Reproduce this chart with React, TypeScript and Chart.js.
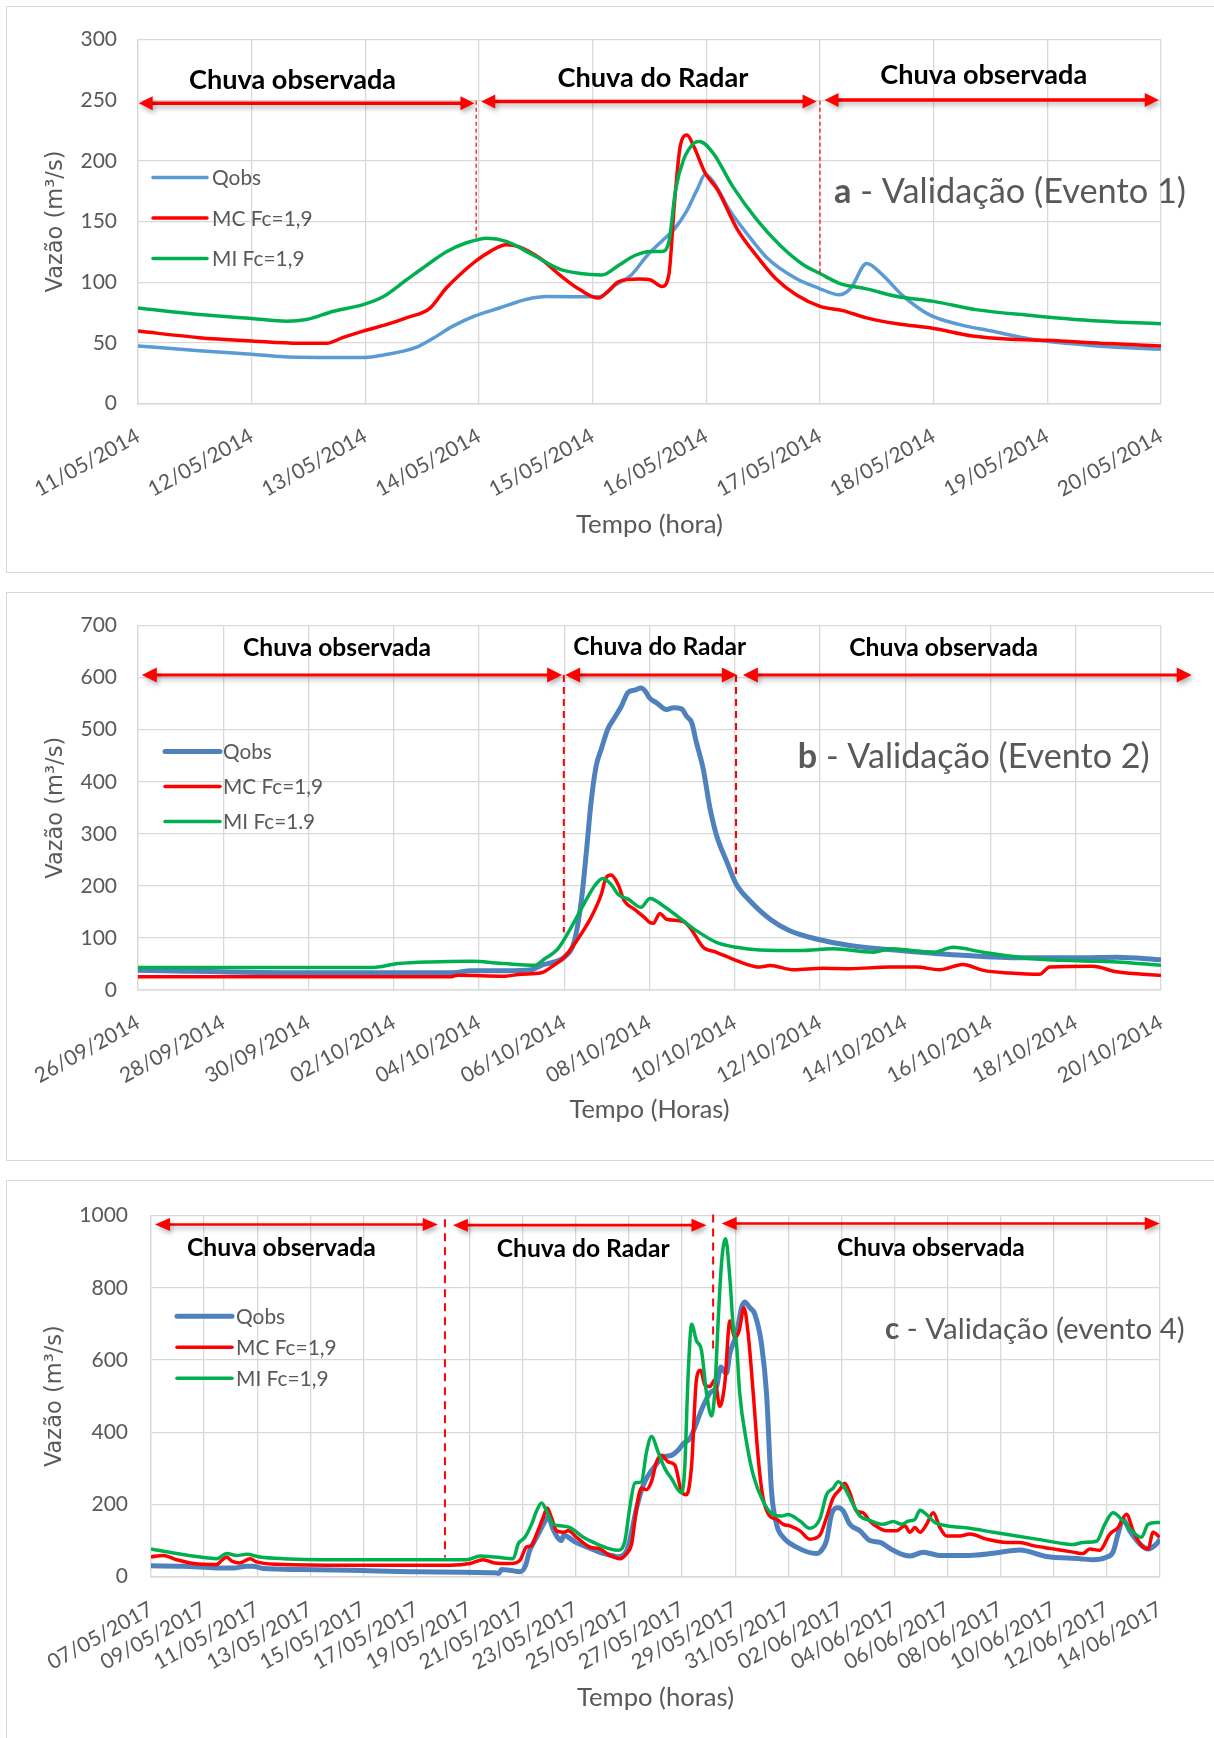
import React, { useEffect, useRef } from 'react';
import { Chart, registerables } from 'chart.js';

Chart.register(...registerables);

type Pt = [number, number];

// ---------------- Panel a: 11/05/2014 - 20/05/2014 ----------------
const aTickLabels = ['11/05/2014', '12/05/2014', '13/05/2014', '14/05/2014', '15/05/2014', '16/05/2014', '17/05/2014', '18/05/2014', '19/05/2014', '20/05/2014'];
const aQobs: Pt[] = [[0, 47.5], [0.54, 43.4], [1.0, 40.7], [1.28, 38.6], [1.72, 38], [2.0, 38], [2.16, 40], [2.44, 46], [2.6, 54], [2.77, 63.8], [2.96, 72], [3.18, 78.7], [3.42, 86], [3.6, 88.2], [4.06, 88], [4.2, 97.7], [4.34, 106], [4.48, 122], [4.61, 134], [4.72, 144], [4.82, 157.5], [4.92, 176.5], [4.99, 188.7], [5.06, 183], [5.2, 160], [5.37, 138.5], [5.54, 119.5], [5.79, 103], [5.99, 95], [6.17, 89.6], [6.27, 95], [6.41, 115.4], [6.55, 106], [6.72, 89.6], [6.96, 73.3], [7.23, 65], [7.51, 59.7], [7.86, 53], [8.2, 49.4], [8.54, 46.7], [9.0, 44.8]];
const aMC: Pt[] = [[0, 59.7], [0.54, 54.3], [1.0, 51.6], [1.42, 49.7], [1.66, 49.7], [1.8, 54.3], [1.98, 59.7], [2.19, 65.2], [2.36, 70.6], [2.57, 78.7], [2.71, 95], [2.86, 108.6], [2.98, 118], [3.1, 125.4], [3.24, 130.9], [3.36, 129], [3.54, 119.5], [3.71, 106], [3.89, 93.7], [4.05, 86.9], [4.13, 92], [4.23, 100.5], [4.41, 102.6], [4.51, 101.8], [4.61, 96.4], [4.67, 106], [4.72, 165.6], [4.77, 211.8], [4.83, 221.3], [4.89, 211.8], [4.99, 190], [5.1, 176], [5.27, 144], [5.44, 122], [5.61, 103], [5.79, 89.6], [6.0, 80.1], [6.2, 76.6], [6.41, 70.6], [6.68, 65.7], [7.0, 61.9], [7.34, 55.7], [7.68, 53], [7.99, 52.1], [8.54, 49.4], [9.0, 47.5]];
const aMI: Pt[] = [[0, 78.7], [0.54, 73.3], [1.0, 70], [1.31, 67.9], [1.48, 69.2], [1.72, 76], [1.98, 81.5], [2.16, 88.2], [2.36, 101.8], [2.54, 114], [2.71, 124.9], [2.89, 132.5], [3.07, 136.3], [3.24, 133.6], [3.48, 122.2], [3.71, 110.8], [3.89, 107.2], [4.08, 106], [4.23, 114], [4.37, 122], [4.51, 125.4], [4.61, 125.4], [4.67, 133], [4.73, 176.5], [4.8, 201], [4.89, 214.5], [4.94, 216], [5.06, 206.4], [5.23, 179.2], [5.44, 152], [5.65, 130.3], [5.86, 114], [6.0, 107.2], [6.17, 99.1], [6.41, 94.5], [6.68, 88.2], [7.0, 84.2], [7.37, 77.4], [7.86, 72.5], [8.37, 68.4], [9.0, 65.7]];

// ---------------- Panel b: 26/09/2014 - 20/10/2014 ----------------
const bTickLabels = ['26/09/2014', '28/09/2014', '30/09/2014', '02/10/2014', '04/10/2014', '06/10/2014', '08/10/2014', '10/10/2014', '12/10/2014', '14/10/2014', '16/10/2014', '18/10/2014', '20/10/2014'];
const bQobs: Pt[] = [[0, 38], [3.9, 33], [7.4, 33], [7.8, 36.8], [8.6, 36.8], [9.23, 39], [9.46, 47.5], [9.77, 53.9], [10.0, 63], [10.24, 95], [10.4, 171], [10.52, 266], [10.63, 361], [10.75, 431], [10.87, 463], [11.02, 501], [11.18, 523], [11.34, 545], [11.5, 572], [11.65, 576], [11.8, 580], [11.9, 574], [12.0, 561], [12.17, 551.6], [12.4, 538.9], [12.56, 542], [12.75, 540], [12.87, 526], [12.99, 513.5], [13.1, 475.5], [13.26, 424.7], [13.42, 348.6], [13.57, 297.8], [13.81, 247], [14.04, 202.7], [14.36, 171], [14.83, 136], [15.29, 113.9], [15.92, 98], [16.7, 85.4], [17.87, 75.8], [19.04, 68.2], [20.6, 61.9], [22.17, 61.9], [22.96, 63], [24.0, 58]];
const bMC: Pt[] = [[0, 25.4], [7.35, 25.4], [7.5, 28.5], [8.6, 26.6], [9.0, 30.4], [9.46, 33], [9.7, 44.4], [10.0, 63], [10.16, 79], [10.4, 108], [10.63, 139.5], [10.87, 184], [10.98, 215.6], [11.1, 220.7], [11.26, 203], [11.41, 171], [11.65, 155], [11.88, 139.5], [12.0, 130], [12.09, 128], [12.24, 147], [12.4, 136], [12.79, 131.6], [12.95, 120], [13.26, 82], [13.57, 72.5], [14.04, 56.6], [14.59, 44], [14.83, 47], [15.37, 39], [16.07, 42], [16.7, 41], [17.64, 44], [18.26, 44], [18.8, 39], [19.35, 49], [19.83, 37.7], [20.45, 32.7], [21.15, 30.2], [21.39, 44.4], [22.4, 45.6], [22.96, 34.9], [24.0, 27.9]];
const bMI: Pt[] = [[0, 43], [5.47, 43], [6.1, 50.7], [6.88, 54], [7.82, 55], [8.6, 50.7], [9.3, 47.5], [9.54, 60], [9.85, 79], [10.16, 120], [10.48, 168], [10.71, 199.9], [10.9, 214.4], [11.1, 203], [11.26, 184], [11.5, 174.6], [11.8, 158.8], [12.01, 176], [12.32, 162], [12.79, 133], [13.1, 114], [13.57, 91.5], [14.04, 82], [14.59, 77], [15.53, 75.8], [16.31, 79], [17.25, 72.5], [17.64, 79], [18.66, 72.5], [19.12, 82], [19.83, 72.5], [21.0, 60], [22.17, 55.8], [22.96, 53.9], [24.0, 47.5]];

// ---------------- Panel c: 07/05/2017 - 14/06/2017 ----------------
const cTickLabels = ['07/05/2017', '09/05/2017', '11/05/2017', '13/05/2017', '15/05/2017', '17/05/2017', '19/05/2017', '21/05/2017', '23/05/2017', '25/05/2017', '27/05/2017', '29/05/2017', '31/05/2017', '02/06/2017', '04/06/2017', '06/06/2017', '08/06/2017', '10/06/2017', '12/06/2017', '14/06/2017'];
const cQobs: Pt[] = [[0, 30], [1.22, 29], [2.47, 24.4], [3.1, 24], [3.6, 29], [3.85, 29], [4.23, 22.6], [5.61, 20], [7.5, 18], [10.0, 13.5], [12.95, 10.7], [13.1, 9], [13.2, 20], [13.5, 18], [13.9, 14], [14.1, 30], [14.25, 70], [14.45, 100], [14.6, 120], [14.85, 155], [14.95, 165], [15.15, 130], [15.3, 110], [15.45, 100], [15.55, 115], [15.7, 110], [16.0, 95], [16.5, 80], [17.0, 65], [17.4, 58], [17.6, 55], [17.9, 70], [18.03, 100], [18.29, 191], [18.54, 254], [18.91, 300], [19.29, 331], [19.6, 336], [19.85, 350], [20.04, 368], [20.29, 382], [20.79, 472], [21.05, 509], [21.3, 527], [21.46, 581], [21.67, 563], [21.8, 618], [22.05, 672], [22.24, 745], [22.36, 761], [22.55, 745], [22.74, 727], [23.0, 640], [23.18, 509], [23.37, 236], [23.56, 145], [23.81, 109], [24.31, 82], [25.06, 64], [25.19, 68], [25.44, 100], [25.63, 173], [25.88, 191], [26.07, 182], [26.32, 145], [26.7, 127], [27.07, 100], [27.45, 95], [27.95, 73], [28.58, 57], [29.08, 68], [29.7, 59], [30.84, 59], [31.72, 65], [32.72, 74], [33.72, 56], [34.98, 50], [35.48, 47], [35.98, 54], [36.23, 68], [36.42, 118], [36.61, 159], [36.86, 127], [37.24, 91], [37.55, 77], [37.87, 91], [38.0, 104]];
const cMC: Pt[] = [[0, 54.6], [0.46, 59], [0.97, 47], [1.6, 36.4], [2.47, 33.7], [2.66, 45], [2.85, 54.6], [3.04, 43.6], [3.35, 38], [3.73, 50], [3.98, 41], [4.73, 34.6], [7.49, 32], [11.26, 32], [12.01, 36.4], [12.51, 47], [12.95, 38], [13.52, 36.4], [13.89, 45], [14.14, 82], [14.33, 86], [14.52, 118], [14.77, 164], [14.92, 190], [15.08, 164], [15.27, 127], [15.52, 123], [15.71, 127], [16.03, 109], [16.53, 82], [16.9, 77], [17.28, 59], [17.66, 50], [17.91, 64], [18.1, 91], [18.29, 191], [18.47, 245], [18.66, 241], [18.85, 264], [19.04, 318], [19.23, 336], [19.48, 318], [19.73, 309], [19.98, 236], [20.17, 227], [20.36, 309], [20.54, 545], [20.7, 572], [20.86, 531], [21.05, 527], [21.23, 545], [21.42, 472], [21.61, 536], [21.8, 708], [21.99, 663], [22.15, 681], [22.33, 745], [22.49, 672], [22.68, 509], [22.87, 327], [23.05, 218], [23.3, 168], [23.56, 159], [23.81, 145], [24.06, 141], [24.44, 127], [24.81, 104], [25.19, 115], [25.44, 164], [25.69, 218], [25.94, 241], [26.13, 259], [26.32, 232], [26.57, 182], [26.82, 177], [27.07, 154], [27.39, 136], [27.7, 127], [28.08, 127], [28.39, 141], [28.58, 123], [28.77, 136], [28.96, 123], [29.21, 145], [29.46, 177], [29.71, 136], [29.96, 113], [30.46, 113], [30.84, 118], [31.47, 104], [32.22, 95], [32.72, 95], [33.22, 86], [33.97, 77], [34.73, 68], [35.1, 64], [35.35, 77], [35.73, 73], [36.11, 118], [36.42, 136], [36.74, 173], [36.99, 127], [37.3, 86], [37.55, 77], [37.74, 123], [37.99, 109]];
const cMI: Pt[] = [[0, 77], [0.97, 64], [1.85, 54.6], [2.47, 50], [2.85, 64], [3.23, 59], [3.6, 62], [4.1, 54.6], [4.98, 50], [7.49, 47], [11.89, 47], [12.39, 57], [12.95, 54.6], [13.64, 50], [13.83, 91], [14.08, 109], [14.33, 145], [14.52, 182], [14.71, 204], [14.9, 182], [15.15, 145], [15.4, 141], [15.78, 136], [16.28, 109], [16.78, 91], [17.28, 77], [17.6, 73], [17.85, 100], [18.03, 191], [18.22, 259], [18.47, 263], [18.66, 345], [18.85, 388], [19.1, 345], [19.35, 300], [19.6, 272], [19.98, 232], [20.1, 300], [20.23, 560], [20.36, 699], [20.54, 654], [20.73, 627], [20.92, 509], [21.11, 445], [21.23, 509], [21.36, 708], [21.49, 872], [21.64, 936], [21.8, 827], [21.93, 690], [22.05, 645], [22.17, 509], [22.43, 372], [22.68, 282], [23.05, 209], [23.43, 172], [23.74, 168], [23.99, 172], [24.44, 154], [24.81, 134], [25.19, 160], [25.44, 227], [25.69, 245], [25.88, 263], [26.13, 245], [26.44, 200], [26.7, 168], [27.07, 156], [27.57, 145], [27.95, 153], [28.27, 145], [28.52, 154], [28.77, 159], [28.96, 184], [29.21, 172], [29.52, 150], [29.96, 141], [30.84, 134], [31.72, 123], [32.6, 113], [33.35, 104], [34.23, 93], [34.73, 89], [35.1, 95], [35.61, 98], [35.92, 145], [36.23, 177], [36.55, 159], [36.99, 123], [37.3, 109], [37.55, 145], [37.87, 150], [38.0, 150]];

// ---------------- styles & layout ----------------
const FONT = 'Lato';
const GRAY = '#595959';
const GRID = '#D9D9D9';
const RED = '#FF0000';
const GREEN = '#00B050';
const CANVAS_W = 1208;

type Series = { label: string; data: Pt[]; color: string; width: number };
type Arrow = { x1: number; x2: number; y: number };
type VLine = { x: number; y1: number; y2: number };
type Label = { text: string; x: number; y: number; w: number };
type PanelCfg = {
  key: string;
  top: number; height: number; boxH: number;
  area: { left: number; top: number; right: number; bottom: number };
  xMax: number; xStep: number; tickLabels: string[];
  yMax: number; yStep: number; yTickPad: number;
  xTitle: string; xTitleY: number; xTitleW: number;
  yTitleX: number;
  series: Series[];
  arrows: Arrow[]; arrowLW: number; headL: number; headW: number;
  vlines: VLine[]; dashLW: number; dash: number[];
  labels: Label[];
  tag: { bold: string; rest: string; x: number; y: number; w: number };
  legend: { dx: number; dy: number; step: number; lineLen: number; gap: number; textW: number };
};

let mctx: CanvasRenderingContext2D | null = null;
function textWidth(text: string, font: string): number {
  if (!mctx) mctx = document.createElement('canvas').getContext('2d');
  mctx!.font = font;
  return mctx!.measureText(text).width;
}
function fitSize(text: string, weight: string, family: string, target: number): number {
  return (100 * target) / textWidth(text, `${weight} 100px ${family}`);
}

function drawArrow(ctx: CanvasRenderingContext2D, x1: number, x2: number, y: number, lw: number, hl: number, hw: number) {
  ctx.save();
  ctx.shadowColor = 'rgba(0,0,0,0.30)';
  ctx.shadowBlur = 5;
  ctx.shadowOffsetX = 2;
  ctx.shadowOffsetY = 3;
  ctx.strokeStyle = RED;
  ctx.fillStyle = RED;
  ctx.lineWidth = lw;
  ctx.beginPath();
  ctx.moveTo(x1 + hl - 1, y);
  ctx.lineTo(x2 - hl + 1, y);
  ctx.stroke();
  ctx.beginPath();
  ctx.moveTo(x1, y);
  ctx.lineTo(x1 + hl, y - hw);
  ctx.lineTo(x1 + hl, y + hw);
  ctx.closePath();
  ctx.fill();
  ctx.beginPath();
  ctx.moveTo(x2, y);
  ctx.lineTo(x2 - hl, y - hw);
  ctx.lineTo(x2 - hl, y + hw);
  ctx.closePath();
  ctx.fill();
  ctx.restore();
}

function makeAnnotations(cfg: PanelCfg) {
  return {
    id: 'annot_' + cfg.key,
    afterDraw(chart: any) {
      const ctx: CanvasRenderingContext2D = chart.ctx;
      const xs = chart.scales.x;
      const ys = chart.scales.y;
      const px = (v: number) => xs.getPixelForValue(v);
      const py = (v: number) => ys.getPixelForValue(v);
      const ca = chart.chartArea;

      // dashed separators
      ctx.save();
      ctx.strokeStyle = RED;
      ctx.lineWidth = cfg.dashLW;
      ctx.setLineDash(cfg.dash);
      for (const v of cfg.vlines) {
        ctx.beginPath();
        ctx.moveTo(px(v.x), py(v.y1));
        ctx.lineTo(px(v.x), py(v.y2));
        ctx.stroke();
      }
      ctx.restore();

      // arrows
      for (const a of cfg.arrows) drawArrow(ctx, px(a.x1), px(a.x2), py(a.y), cfg.arrowLW, cfg.headL, cfg.headW);

      // region labels
      for (const l of cfg.labels) {
        const s = fitSize(l.text, 'bold', FONT, l.w);
        ctx.save();
        ctx.font = `bold ${s}px ${FONT}`;
        ctx.fillStyle = '#000000';
        ctx.textAlign = 'center';
        ctx.textBaseline = 'alphabetic';
        ctx.fillText(l.text, px(l.x), py(l.y));
        ctx.restore();
      }

      // panel tag
      {
        const t = cfg.tag;
        const wb = textWidth(t.bold, `bold 100px ${FONT}`);
        const wr = textWidth(t.rest, `normal 100px ${FONT}`);
        const s = (100 * t.w) / (wb + wr);
        const x0 = px(t.x);
        const y0 = py(t.y);
        ctx.save();
        ctx.fillStyle = GRAY;
        ctx.textAlign = 'left';
        ctx.textBaseline = 'alphabetic';
        ctx.font = `bold ${s}px ${FONT}`;
        ctx.fillText(t.bold, x0, y0);
        const bw = ctx.measureText(t.bold).width;
        ctx.font = `normal ${s}px ${FONT}`;
        ctx.fillText(t.rest, x0 + bw, y0);
        ctx.restore();
      }

      // legend
      {
        const lg = cfg.legend;
        const s = fitSize('MC Fc=1,9', 'normal', FONT, lg.textW);
        ctx.save();
        cfg.series.forEach((se, i) => {
          const y = ca.top + lg.dy + i * lg.step;
          const x = ca.left + lg.dx;
          ctx.strokeStyle = se.color;
          ctx.lineWidth = se.width;
          ctx.lineCap = 'round';
          ctx.beginPath();
          ctx.moveTo(x, y);
          ctx.lineTo(x + lg.lineLen, y);
          ctx.stroke();
          ctx.font = `normal ${s}px ${FONT}`;
          ctx.fillStyle = GRAY;
          ctx.textAlign = 'left';
          ctx.textBaseline = 'middle';
          ctx.fillText(se.label, x + lg.lineLen + lg.gap, y + 1);
        });
        ctx.restore();
      }
    },
  };
}

const panels: PanelCfg[] = [
  {
    key: 'a', top: 6, height: 566, boxH: 567,
    area: { left: 132, top: 29, right: 1155, bottom: 397.5 },
    xMax: 9, xStep: 1, tickLabels: aTickLabels,
    yMax: 300, yStep: 50, yTickPad: 21,
    xTitle: 'Tempo (hora)', xTitleY: 518.4, xTitleW: 147,
    yTitleX: 50,
    series: [
      { label: 'Qobs', data: aQobs, color: '#5B9BD5', width: 3.5 },
      { label: 'MC Fc=1,9', data: aMC, color: RED, width: 3.5 },
      { label: 'MI Fc=1,9', data: aMI, color: GREEN, width: 3.5 },
    ],
    arrows: [{ x1: 0.006, x2: 2.96, y: 247.6 }, { x1: 3.02, x2: 5.97, y: 249 }, { x1: 6.04, x2: 8.98, y: 250.3 }],
    arrowLW: 3.5, headL: 14, headW: 7,
    vlines: [{ x: 2.975, y1: 249.5, y2: 135.2 }, { x: 6.0, y1: 249.5, y2: 107 }],
    dashLW: 1.2, dash: [4, 3],
    labels: [
      { text: 'Chuva observada', x: 1.36, y: 259.3, w: 207 },
      { text: 'Chuva do Radar', x: 4.53, y: 260.6, w: 191 },
      { text: 'Chuva observada', x: 7.44, y: 263.3, w: 207 },
    ],
    tag: { bold: 'a', rest: ' - Validação (Evento 1)', x: 6.124, y: 165.6, w: 352 },
    legend: { dx: 15, dy: 138, step: 40.5, lineLen: 54, gap: 5, textW: 100.7 },
  },
  {
    key: 'b', top: 592, height: 568, boxH: 569,
    area: { left: 132, top: 30, right: 1155, bottom: 398 },
    xMax: 24, xStep: 2, tickLabels: bTickLabels,
    yMax: 700, yStep: 100, yTickPad: 21,
    xTitle: 'Tempo (Horas)', xTitleY: 517.8, xTitleW: 160,
    yTitleX: 50,
    series: [
      { label: 'Qobs', data: bQobs, color: '#4F81BD', width: 5 },
      { label: 'MC Fc=1,9', data: bMC, color: RED, width: 3.5 },
      { label: 'MI Fc=1.9', data: bMI, color: GREEN, width: 3.5 },
    ],
    arrows: [{ x1: 0.09, x2: 9.95, y: 605 }, { x1: 10.02, x2: 14.05, y: 605 }, { x1: 14.19, x2: 24.72, y: 605 }],
    arrowLW: 3, headL: 15, headW: 7.5,
    vlines: [{ x: 9.99, y1: 605, y2: 111 }, { x: 14.03, y1: 605, y2: 215 }],
    dashLW: 2, dash: [7, 5],
    labels: [
      { text: 'Chuva observada', x: 4.67, y: 641.6, w: 188 },
      { text: 'Chuva do Radar', x: 12.24, y: 643, w: 173 },
      { text: 'Chuva observada', x: 18.9, y: 641.6, w: 189 },
    ],
    tag: { bold: 'b', rest: ' - Validação (Evento 2)', x: 15.48, y: 426, w: 352 },
    legend: { dx: 27, dy: 126, step: 35, lineLen: 55, gap: 3, textW: 100 },
  },
  {
    key: 'c', top: 1180, height: 558, boxH: 600,
    area: { left: 145, top: 29.3, right: 1154, bottom: 396.7 },
    xMax: 38, xStep: 2, tickLabels: cTickLabels,
    yMax: 1000, yStep: 200, yTickPad: 23,
    xTitle: 'Tempo (horas)', xTitleY: 517.4, xTitleW: 157,
    yTitleX: 49,
    series: [
      { label: 'Qobs', data: cQobs, color: '#4F81BD', width: 5 },
      { label: 'MC Fc=1,9', data: cMC, color: RED, width: 3.5 },
      { label: 'MI Fc=1,9', data: cMI, color: GREEN, width: 3.5 },
    ],
    arrows: [{ x1: 0.15, x2: 10.8, y: 975.5 }, { x1: 11.37, x2: 20.92, y: 973.6 }, { x1: 21.49, x2: 37.99, y: 978 }],
    arrowLW: 2.6, headL: 15, headW: 6.5,
    vlines: [{ x: 11.07, y1: 990, y2: 53 }, { x: 21.17, y1: 1003, y2: 617 }],
    dashLW: 2, dash: [8, 6],
    labels: [
      { text: 'Chuva observada', x: 4.91, y: 889, w: 189 },
      { text: 'Chuva do Radar', x: 16.28, y: 884.6, w: 173 },
      { text: 'Chuva observada', x: 29.37, y: 889, w: 188 },
    ],
    tag: { bold: 'c', rest: ' - Validação (evento 4)', x: 27.64, y: 657.9, w: 300 },
    legend: { dx: 26, dy: 100.7, step: 31, lineLen: 55, gap: 4, textW: 100.7 },
  },
];

function Panel({ cfg }: { cfg: PanelCfg }) {
  const ref = useRef<HTMLCanvasElement>(null);
  useEffect(() => {
    const canvas = ref.current;
    if (!canvas) return;
    const H = cfg.height;
    const xTitleSize = fitSize(cfg.xTitle, 'normal', FONT, cfg.xTitleW);
    const yTitleSize = fitSize('Vazão (m³/s)', 'normal', 'DejaVu Sans', 142);
    const xLH = xTitleSize * 1.2;
    const yLH = yTitleSize * 1.2;
    const chart = new Chart(canvas, {
      type: 'line',
      data: {
        datasets: cfg.series.map((s, i) => ({
          label: s.label,
          data: s.data.map(([x, y]) => ({ x, y })),
          borderColor: s.color,
          backgroundColor: s.color,
          borderWidth: s.width,
          pointRadius: 0,
          fill: false,
          cubicInterpolationMode: 'monotone',
          order: cfg.series.length - i,
        })),
      },
      options: {
        responsive: false,
        animation: false,
        devicePixelRatio: 1,
        events: [],
        layout: { padding: { left: 0, top: cfg.area.top, right: CANVAS_W - cfg.area.right, bottom: 0 } },
        plugins: { legend: { display: false }, tooltip: { enabled: false }, title: { display: false } },
        scales: {
          x: {
            type: 'linear',
            min: 0,
            max: cfg.xMax,
            ticks: {
              stepSize: cfg.xStep,
              autoSkip: false,
              minRotation: 29,
              maxRotation: 29,
              padding: 20,
              color: GRAY,
              font: { family: FONT, size: 21 },
              callback: (v: any) => cfg.tickLabels[Math.round(Number(v) / cfg.xStep)] ?? '',
            },
            grid: { color: GRID, lineWidth: 1.3, drawTicks: false },
            border: { color: GRID, width: 1.6 },
            title: {
              display: true,
              text: cfg.xTitle,
              color: GRAY,
              font: { family: FONT, size: xTitleSize },
              padding: { top: 0, bottom: H - cfg.xTitleY - xLH / 2 },
            },
            afterFit: (s: any) => { s.height = H - cfg.area.bottom; },
          },
          y: {
            type: 'linear',
            min: 0,
            max: cfg.yMax,
            ticks: {
              stepSize: cfg.yStep,
              padding: cfg.yTickPad,
              color: GRAY,
              font: { family: FONT, size: 21 },
              callback: (v: any) => String(v),
            },
            grid: { color: GRID, lineWidth: 1.3, drawTicks: false },
            border: { color: GRID, width: 1.3 },
            title: {
              display: true,
              text: 'Vazão (m³/s)',
              color: GRAY,
              font: { family: 'DejaVu Sans', size: yTitleSize },
              padding: { top: cfg.yTitleX - yLH / 2, bottom: 0 },
            },
            afterFit: (s: any) => { s.width = cfg.area.left; },
          },
        },
      } as any,
      plugins: [makeAnnotations(cfg)],
    } as any);
    return () => chart.destroy();
  }, [cfg]);
  return (
    <>
      <div
        style={{
          position: 'absolute',
          left: 6,
          top: cfg.top,
          width: 1214,
          height: cfg.boxH,
          border: '1px solid #D9D9D9',
          boxSizing: 'border-box',
        }}
      />
      <canvas
        ref={ref}
        width={CANVAS_W}
        height={cfg.height}
        style={{ position: 'absolute', left: 6, top: cfg.top, width: CANVAS_W, height: cfg.height }}
      />
    </>
  );
}

export default function App() {
  return (
    <div
      style={{
        position: 'absolute',
        left: 0,
        top: 0,
        width: 1214,
        height: 1738,
        overflow: 'hidden',
        background: '#FFFFFF',
      }}
    >
      {panels.map((p) => (
        <Panel key={p.key} cfg={p} />
      ))}
    </div>
  );
}
